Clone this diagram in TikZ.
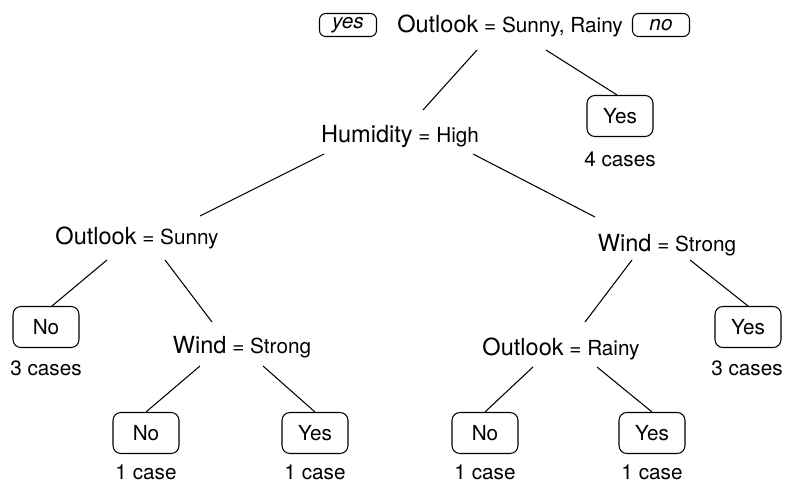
\documentclass[tikz,border=0pt]{standalone}
\usepackage{fontspec}
\setmainfont{TeX Gyre Heros}
\usepackage{tikz}
\usetikzlibrary{calc}
\usetikzlibrary{positioning}
\tikzstyle{test} = [draw=none, inner sep = 0, text height = 9.6pt, text depth = 0pt]
\tikzstyle{leaf} = [draw, rounded corners = 4.5pt, minimum width = 1.32cm, minimum height = .82cm, inner sep = 0]
\tikzstyle{tag} = [draw, rounded corners = 3.5pt, minimum width = 1.14cm, minimum height = .46cm, inner sep = 0, font = \fontsize{11.8}{14}\selectfont\itshape]
\tikzstyle{count} = [draw=none, inner sep = 0, text height = 8.4pt, text depth = 0pt]
\newcommand{\attr}[1]{{\fontsize{13.4}{16}\selectfont #1}}

\begin{document}
\begin{tikzpicture}[x = .02cm, y = -.02cm, line width = .6pt, font = \fontsize{11.8}{14}\selectfont]
\useasboundingbox (0, 0) rectangle (785, 486);
% splits
\node [test]  (root) at (510, 24) {\attr{Outlook} = Sunny, Rainy};
\node [tag]   (tyes) at (348, 25) {yes};
\node [tag]   (tno) at (661, 25) {no};
\node [test]  (hum) at (400, 134) {\attr{Humidity} = High};
\node [test]  (osun) at (137, 236) {\attr{Outlook} = Sunny};
\node [test]  (windl) at (242, 345) {\attr{Wind} = Strong};
\node [test]  (windr) at (667, 243) {\attr{Wind} = Strong};
\node [test]  (orain) at (561, 347) {\attr{Outlook} = Rainy};
% leaves
\node [leaf]  (y1) at (620, 116) {Yes};
\node [count] (c1) at (620, 159) {4 cases};
\node [leaf]  (n1) at (46, 327) {No};
\node [count] (c2) at (46, 368) {3 cases};
\node [leaf]  (y4) at (748, 327) {Yes};
\node [count] (c3) at (747, 368) {3 cases};
\node [leaf]  (n2) at (146, 433) {No};
\node [count] (c4) at (146, 472) {1 case};
\node [leaf]  (y2) at (315, 433) {Yes};
\node [count] (c5) at (315, 472) {1 case};
\node [leaf]  (n3) at (485, 433) {No};
\node [count] (c6) at (485, 472) {1 case};
\node [leaf]  (y5) at (652, 433) {Yes};
\node [count] (c7) at (652, 472) {1 case};
% branches
\draw ($(root) + (-33, 26)$) to ($(hum) + (23, -24)$);
\draw ($(root) + (36, 26)$) to ([xshift = -.06cm]y1.north);
\draw ($(hum) + (-76, 20)$) to ($(osun) + (63, -20)$);
\draw ($(hum) + (73, 20)$) to ($(windr) + (-72, -26)$);
\draw ($(osun) + (-30, 24)$) to ([xshift = .12cm]n1.north);
\draw ($(osun) + (28, 24)$) to ($(windl) + (-30, -23)$);
\draw ($(windl) + (-42, 21)$) to (n2.north);
\draw ($(windl) + (21, 21)$) to (y2.north);
\draw ($(windr) + (-35, 17)$) to ($(orain) + (24, -25)$);
\draw ($(windr) + (23, 17)$) to (y4.north);
\draw ($(orain) + (-28, 20)$) to (n3.north);
\draw ($(orain) + (36, 20)$) to (y5.north);
\end{tikzpicture}
\end{document}
